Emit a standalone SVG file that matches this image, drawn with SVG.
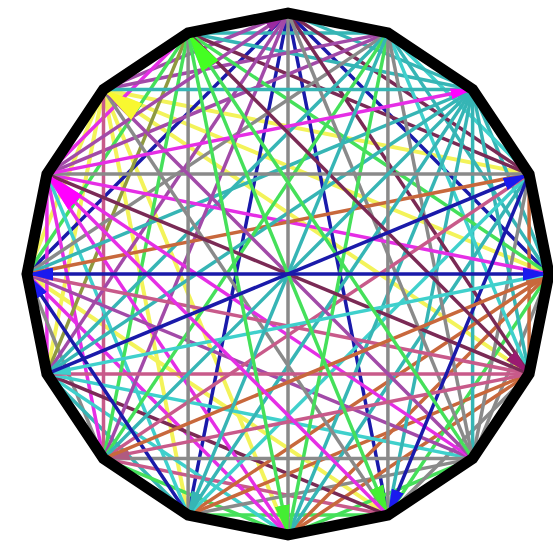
<svg xmlns="http://www.w3.org/2000/svg" width="553" height="544" viewBox="0 0 553 544">
<style>
line{stroke-width:3.5;fill:none}
.B{stroke:#1a1aaa}.G{stroke:#8a8a8a}.T{stroke:#36b5b5}.C{stroke:#3fd0cc}.L{stroke:#45e05a}
.M{stroke:#e52ee5}.P{stroke:#a24aa8}.R{stroke:#c8683c}.Y{stroke:#f3f35a;stroke-width:4}
.D{stroke:#7a2a55}.K{stroke:#c85a8a}.O{stroke:#8f9a40}
</style>
<defs>
<marker id="mB" viewBox="0 0 24 12" refX="24" refY="6" markerWidth="26" markerHeight="13" markerUnits="userSpaceOnUse" orient="auto-start-reverse"><path d="M0,0 L24,6 L0,12 Z" fill="#1a1aee"/></marker>
<marker id="mM" viewBox="0 0 24 12" refX="24" refY="6" markerWidth="22" markerHeight="12" markerUnits="userSpaceOnUse" orient="auto"><path d="M0,0 L24,6 L0,12 Z" fill="#ff00ff"/></marker>
<marker id="mMb" viewBox="0 0 24 12" refX="24" refY="6" markerWidth="40" markerHeight="26" markerUnits="userSpaceOnUse" orient="auto"><path d="M0,0 L24,6 L0,12 Z" fill="#ff00ff"/></marker>
<marker id="mY" viewBox="0 0 24 12" refX="24" refY="6" markerWidth="40" markerHeight="26" markerUnits="userSpaceOnUse" orient="auto"><path d="M0,0 L24,6 L0,12 Z" fill="#f8f830"/></marker>
<marker id="mL" viewBox="0 0 24 12" refX="24" refY="6" markerWidth="30" markerHeight="18" markerUnits="userSpaceOnUse" orient="auto"><path d="M0,0 L24,6 L0,12 Z" fill="#44ee33"/></marker>
<marker id="mLb" viewBox="0 0 24 12" refX="24" refY="6" markerWidth="40" markerHeight="26" markerUnits="userSpaceOnUse" orient="auto"><path d="M0,0 L24,6 L0,12 Z" fill="#44ff22"/></marker>
<marker id="mP" viewBox="0 0 24 12" refX="24" refY="6" markerWidth="24" markerHeight="13" markerUnits="userSpaceOnUse" orient="auto"><path d="M0,0 L24,6 L0,12 Z" fill="#9a2aa0"/></marker>
<marker id="mD" viewBox="0 0 24 12" refX="24" refY="6" markerWidth="26" markerHeight="15" markerUnits="userSpaceOnUse" orient="auto"><path d="M0,0 L24,6 L0,12 Z" fill="#9a1a70"/></marker>
<marker id="mR" viewBox="0 0 24 12" refX="24" refY="6" markerWidth="24" markerHeight="13" markerUnits="userSpaceOnUse" orient="auto"><path d="M0,0 L24,6 L0,12 Z" fill="#c8683c"/></marker>
<marker id="mC" viewBox="0 0 24 12" refX="24" refY="6" markerWidth="24" markerHeight="14" markerUnits="userSpaceOnUse" orient="auto"><path d="M0,0 L24,6 L0,12 Z" fill="#3fd0cc"/></marker>
<marker id="mT" viewBox="0 0 24 12" refX="24" refY="6" markerWidth="24" markerHeight="14" markerUnits="userSpaceOnUse" orient="auto"><path d="M0,0 L24,6 L0,12 Z" fill="#36b5b5"/></marker>
<marker id="mK" viewBox="0 0 24 12" refX="24" refY="6" markerWidth="26" markerHeight="15" markerUnits="userSpaceOnUse" orient="auto"><path d="M0,0 L24,6 L0,12 Z" fill="#b05a80"/></marker>
</defs>
<rect width="553" height="544" fill="#ffffff"/>
<g id="connectors">
<!-- yellow (underneath) -->
<line class="Y" x1="103.5" y1="89.5" x2="27" y2="274"/>
<line class="Y" x1="103.5" y1="89.5" x2="46.9" y2="373.9"/>
<line class="Y" x1="529.1" y1="174.1" x2="103.5" y2="89.5"/>
<line class="Y" x1="103.5" y1="89.5" x2="188.1" y2="515.1"/>
<line class="Y" x1="27" y1="274" x2="387.9" y2="515.1"/>
<line class="Y" x1="549" y1="274" x2="103.5" y2="89.5"/>
<line class="Y" x1="103.5" y1="89.5" x2="288" y2="535"/>
<line class="Y" x1="529.1" y1="373.9" x2="103.5" y2="89.5"/>
<!-- span 1 -->
<line class="L" x1="549" y1="274" x2="529.1" y2="174.1"/>
<line class="L" x1="529.1" y1="174.1" x2="472.6" y2="89.5"/>
<line class="L" x1="472.6" y1="89.5" x2="387.9" y2="32.9"/>
<line class="T" x1="387.9" y1="32.9" x2="288" y2="13"/>
<line class="L" x1="288" y1="13" x2="188.1" y2="32.9"/>
<line class="M" x1="188.1" y1="32.9" x2="103.5" y2="89.5"/>
<line class="M" x1="103.5" y1="89.5" x2="46.9" y2="174.1"/>
<line class="M" x1="46.9" y1="174.1" x2="27" y2="274"/>
<line class="P" x1="27" y1="274" x2="46.9" y2="373.9"/>
<line class="T" x1="46.9" y1="373.9" x2="103.5" y2="458.6"/>
<line class="L" x1="103.5" y1="458.6" x2="188.1" y2="515.1"/>
<line class="L" x1="188.1" y1="515.1" x2="288" y2="535"/>
<line class="L" x1="288" y1="535" x2="387.9" y2="515.1"/>
<line class="L" x1="387.9" y1="515.1" x2="472.6" y2="458.6"/>
<line class="G" x1="472.6" y1="458.6" x2="529.1" y2="373.9"/>
<line class="L" x1="529.1" y1="373.9" x2="549" y2="274"/>
<!-- blue (under) -->
<line class="B" x1="549" y1="274" x2="288" y2="13"/>
<line class="B" x1="288" y1="13" x2="27" y2="274"/>
<line class="B" x1="288" y1="13" x2="188.1" y2="515.1"/>
<line class="B" x1="288" y1="13" x2="387.9" y2="515.1"/>
<!-- span 2 -->
<line class="T" x1="549" y1="274" x2="472.6" y2="89.5"/>
<line class="C" x1="529.1" y1="174.1" x2="387.9" y2="32.9"/>
<line class="T" x1="472.6" y1="89.5" x2="288" y2="13"/>
<line class="T" x1="387.9" y1="32.9" x2="188.1" y2="32.9"/>
<line class="P" x1="288" y1="13" x2="103.5" y2="89.5"/>
<line class="M" x1="188.1" y1="32.9" x2="46.9" y2="174.1"/>
<line class="M" x1="46.9" y1="174.1" x2="46.9" y2="373.9"/>
<line class="G" x1="27" y1="274" x2="103.5" y2="458.6"/>
<line class="T" x1="46.9" y1="373.9" x2="188.1" y2="515.1"/>
<line class="L" x1="103.5" y1="458.6" x2="288" y2="535"/>
<line class="L" x1="188.1" y1="515.1" x2="387.9" y2="515.1"/>
<line class="L" x1="288" y1="535" x2="472.6" y2="458.6"/>
<line class="G" x1="387.9" y1="515.1" x2="529.1" y2="373.9"/>
<line class="G" x1="472.6" y1="458.6" x2="549" y2="274"/>
<line class="R" x1="529.1" y1="373.9" x2="529.1" y2="174.1"/>
<!-- span 3 -->
<line class="T" x1="549" y1="274" x2="387.9" y2="32.9"/>
<line class="D" x1="529.1" y1="174.1" x2="288" y2="13"/>
<line class="T" x1="472.6" y1="89.5" x2="188.1" y2="32.9"/>
<line class="P" x1="387.9" y1="32.9" x2="103.5" y2="89.5"/>
<line class="L" x1="188.1" y1="32.9" x2="27" y2="274"/>
<line class="M" x1="46.9" y1="174.1" x2="103.5" y2="458.6"/>
<line class="C" x1="46.9" y1="373.9" x2="288" y2="535"/>
<line class="K" x1="103.5" y1="458.6" x2="387.9" y2="515.1"/>
<line class="G" x1="188.1" y1="515.1" x2="472.6" y2="458.6"/>
<line class="R" x1="288" y1="535" x2="529.1" y2="373.9"/>
<line class="L" x1="387.9" y1="515.1" x2="549" y2="274"/>
<line class="G" x1="472.6" y1="458.6" x2="529.1" y2="174.1"/>
<line class="T" x1="529.1" y1="373.9" x2="472.6" y2="89.5"/>
<!-- span 4 -->
<line class="D" x1="529.1" y1="174.1" x2="188.1" y2="32.9"/>
<line class="P" x1="387.9" y1="32.9" x2="46.9" y2="174.1"/>
<line class="O" x1="188.1" y1="32.9" x2="46.9" y2="373.9"/>
<line class="K" x1="103.5" y1="89.5" x2="103.5" y2="458.6"/>
<line class="C" x1="46.9" y1="174.1" x2="188.1" y2="515.1"/>
<line class="M" x1="27" y1="274" x2="288" y2="535"/>
<line class="D" x1="46.9" y1="373.9" x2="387.9" y2="515.1"/>
<line class="R" x1="188.1" y1="515.1" x2="529.1" y2="373.9"/>
<line class="R" x1="288" y1="535" x2="549" y2="274"/>
<line class="T" x1="472.6" y1="458.6" x2="472.6" y2="89.5"/>
<line class="C" x1="529.1" y1="373.9" x2="387.9" y2="32.9"/>
<!-- span 5 -->
<line class="L" x1="549" y1="274" x2="188.1" y2="32.9"/>
<line class="G" x1="387.9" y1="32.9" x2="27" y2="274"/>
<line class="P" x1="288" y1="13" x2="46.9" y2="373.9"/>
<line class="L" x1="188.1" y1="32.9" x2="103.5" y2="458.6"/>
<line class="M" x1="46.9" y1="174.1" x2="288" y2="535"/>
<line class="C" x1="46.9" y1="373.9" x2="472.6" y2="458.6"/>
<line class="R" x1="188.1" y1="515.1" x2="549" y2="274"/>
<line class="T" x1="288" y1="535" x2="529.1" y2="174.1"/>
<line class="T" x1="387.9" y1="515.1" x2="472.6" y2="89.5"/>
<line class="G" x1="472.6" y1="458.6" x2="387.9" y2="32.9"/>
<line class="D" x1="529.1" y1="373.9" x2="288" y2="13"/>
<!-- span 6 -->
<line class="T" x1="472.6" y1="89.5" x2="27" y2="274"/>
<line class="T" x1="387.9" y1="32.9" x2="46.9" y2="373.9"/>
<line class="P" x1="288" y1="13" x2="103.5" y2="458.6"/>
<line class="P" x1="27" y1="274" x2="472.6" y2="458.6"/>
<line class="C" x1="188.1" y1="515.1" x2="529.1" y2="174.1"/>
<line class="T" x1="288" y1="535" x2="472.6" y2="89.5"/>
<line class="G" x1="472.6" y1="458.6" x2="288" y2="13"/>
<!-- span 7 -->
<line class="M" x1="549" y1="274" x2="46.9" y2="174.1"/>
<line class="R" x1="529.1" y1="174.1" x2="27" y2="274"/>
<line class="T" x1="472.6" y1="89.5" x2="46.9" y2="373.9"/>
<line class="L" x1="387.9" y1="32.9" x2="103.5" y2="458.6"/>
<line class="G" x1="103.5" y1="89.5" x2="387.9" y2="515.1"/>
<line class="M" x1="46.9" y1="174.1" x2="472.6" y2="458.6"/>
<line class="K" x1="27" y1="274" x2="529.1" y2="373.9"/>
<line class="K" x1="103.5" y1="458.6" x2="529.1" y2="174.1"/>
<line class="T" x1="188.1" y1="515.1" x2="472.6" y2="89.5"/>
<line class="L" x1="288" y1="535" x2="387.9" y2="32.9"/>
<!-- grid -->
<line class="G" x1="288" y1="13" x2="288" y2="535"/>
<line class="G" x1="188.1" y1="32.9" x2="188.1" y2="515.1"/>
<line class="G" x1="387.9" y1="32.9" x2="387.9" y2="515.1"/>
<line class="G" x1="46.9" y1="174.1" x2="529.1" y2="174.1"/>
<line class="K" x1="46.9" y1="373.9" x2="529.1" y2="373.9"/>
<line class="G" x1="103.5" y1="458.6" x2="472.6" y2="458.6"/>
<line class="T" x1="103.5" y1="89.5" x2="472.6" y2="89.5"/>
<!-- diameters -->
<line class="T" x1="472.6" y1="89.5" x2="103.5" y2="458.6"/>
<line class="P" x1="103.5" y1="89.5" x2="472.6" y2="458.6"/>
<line class="D" x1="46.9" y1="174.1" x2="529.1" y2="373.9"/>
<!-- arrowed -->
<line class="P" x1="46.9" y1="174.1" x2="288" y2="13" marker-end="url(#mP)"/>
<line class="B" x1="188.1" y1="515.1" x2="27" y2="274" marker-end="url(#mB)"/>
<line class="B" x1="529.1" y1="174.1" x2="387.9" y2="515.1" marker-end="url(#mB)"/>
<line class="M" x1="46.9" y1="174.1" x2="472.6" y2="89.5" marker-end="url(#mM)"/>
<line class="K" x1="529.1" y1="373.9" x2="103.5" y2="458.6" marker-end="url(#mK)"/>
<line class="R" x1="103.5" y1="458.6" x2="549" y2="274" marker-end="url(#mR)"/>
<line class="D" x1="188.1" y1="32.9" x2="529.1" y2="373.9" marker-end="url(#mD)"/>
<line class="C" x1="549" y1="274" x2="46.9" y2="373.9" marker-end="url(#mC)"/>
<line class="T" x1="387.9" y1="32.9" x2="188.1" y2="515.1" marker-end="url(#mT)"/>
<line class="L" x1="188.1" y1="32.9" x2="288" y2="535" marker-end="url(#mL)"/>
<line class="L" x1="188.1" y1="32.9" x2="387.9" y2="515.1" marker-end="url(#mL)"/>
<line class="L" x1="472.6" y1="458.6" x2="188.1" y2="32.9" marker-end="url(#mLb)"/>
<line class="Y" x1="128.4" y1="106.2" x2="103.5" y2="89.5" marker-end="url(#mY)"/>
<line class="M" x1="387.9" y1="515.1" x2="46.9" y2="174.1" marker-end="url(#mMb)"/>
<line class="B" x1="46.9" y1="373.9" x2="529.1" y2="174.1" marker-end="url(#mB)"/>
<line class="B" x1="27" y1="274" x2="549" y2="274" marker-start="url(#mB)" marker-end="url(#mB)"/>
</g>
<g id="outline">
<polygon points="549,274 529.1,174.1 472.6,89.5 387.9,32.9 288,13 188.1,32.9 103.5,89.5 46.9,174.1 27,274 46.9,373.9 103.5,458.6 188.1,515.1 288,535 387.9,515.1 472.6,458.6 529.1,373.9" fill="none" stroke="#000000" stroke-width="11" stroke-linejoin="miter"/>
</g>
</svg>
